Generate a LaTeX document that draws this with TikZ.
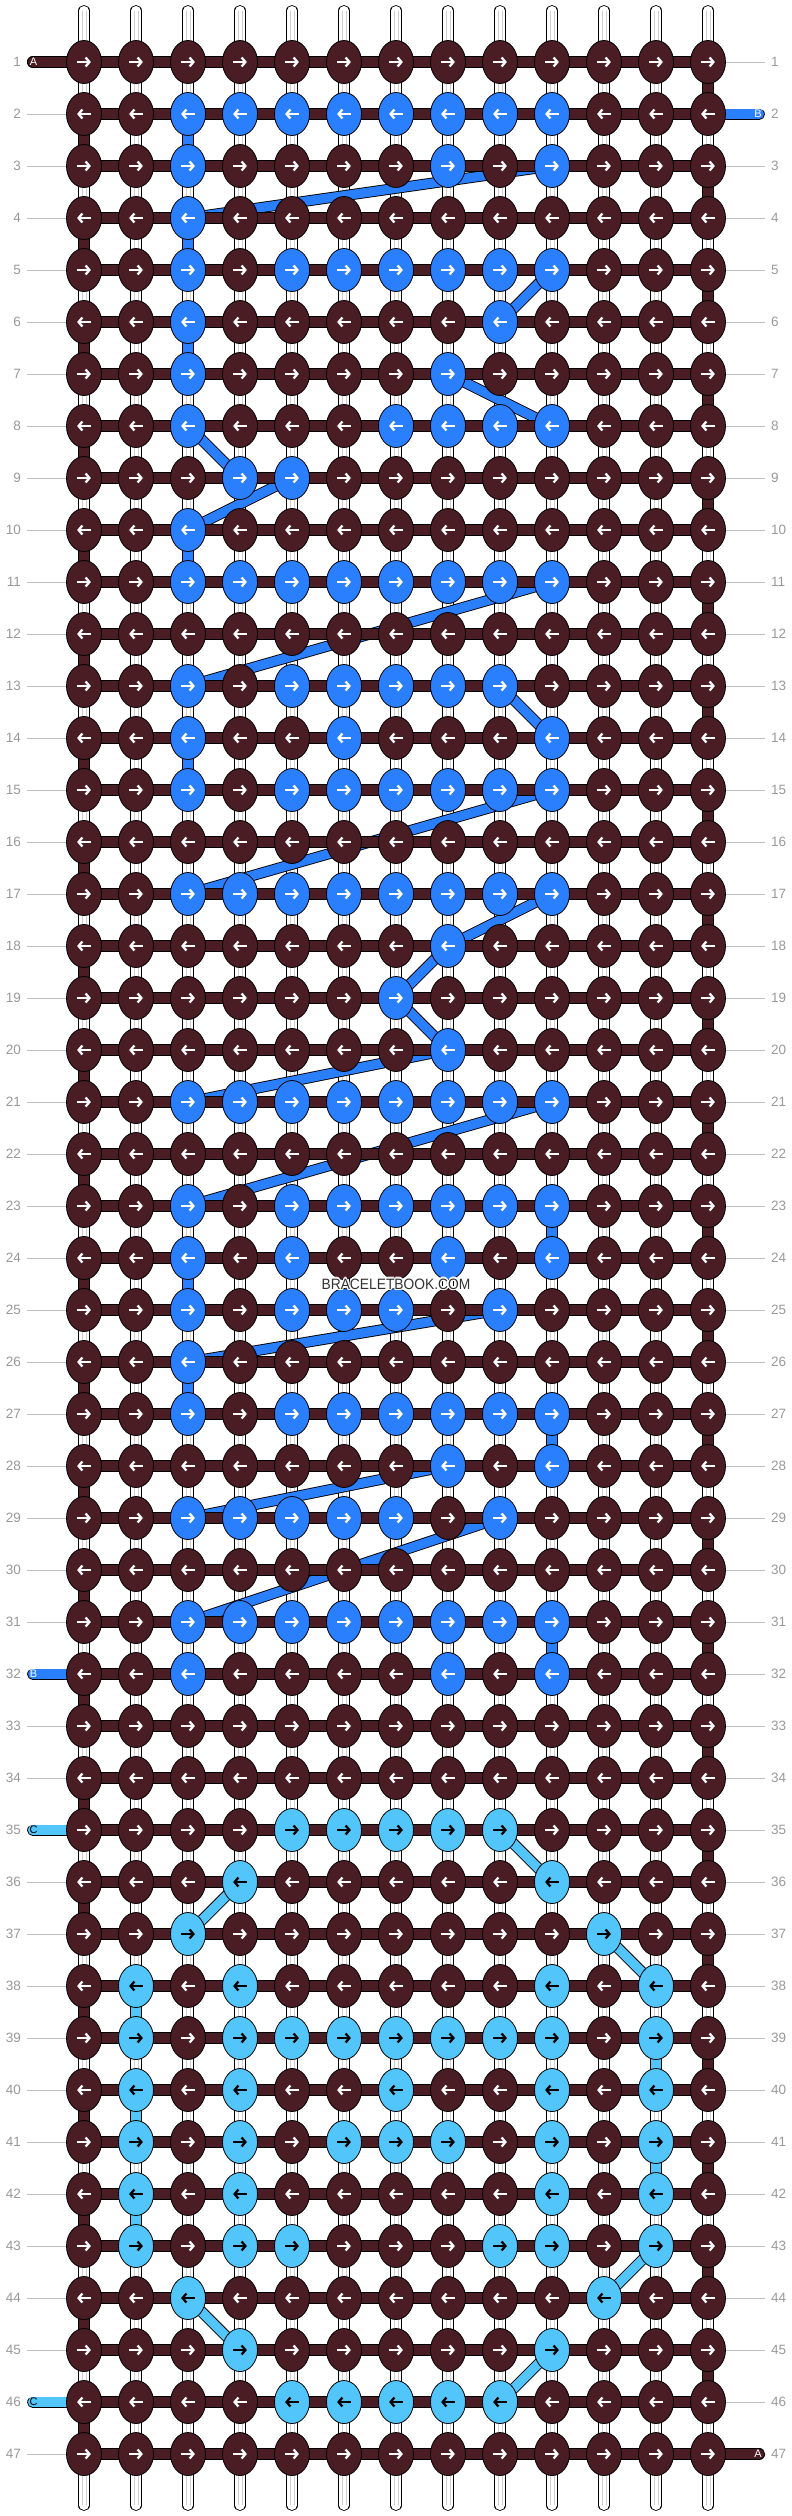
\documentclass[tikz,border=0pt]{standalone}
\usepackage{fontspec}
\setmainfont{Liberation Sans}
\usetikzlibrary{shapes.geometric,arrows.meta}
\definecolor{dk}{HTML}{4A1C24}
\definecolor{bl}{HTML}{2A7FFF}
\definecolor{lb}{HTML}{52C5FA}
\definecolor{labc}{HTML}{999999}
\definecolor{linc}{HTML}{C0C0C0}
\definecolor{wmc}{HTML}{333333}
\definecolor{warpg}{HTML}{CFCFCF}
\pgfdeclarelayer{bgl}\pgfdeclarelayer{wl}\pgfdeclarelayer{cl}\pgfdeclarelayer{hl}
\pgfsetlayers{bgl,wl,cl,hl,main}
\tikzset{
 knot/.style={ellipse, draw=black, line width=0.8pt, minimum width=35pt, minimum height=43pt, inner sep=0pt},
 arw/.style={line width=2.3pt, -{Straight Barb[length=3.8pt,width=9pt]}},
 bandA/.style={draw=black, line width=0.9pt, double=dk, double distance=9.6pt},
 bandB/.style={draw=black, line width=0.9pt, double=bl, double distance=9.2pt},
 bandC/.style={draw=black, line width=0.9pt, double=lb, double distance=9.2pt},
 warp/.style={draw=black, line width=0.9pt, double=white, double distance=9.4pt, line cap=round},
 warpline/.style={draw=warpg, line width=0.7pt},
 rowlab/.style={text=labc, font=\fontsize{13.5}{13.5}\selectfont, inner sep=0pt},
 tick/.style={draw=linc, line width=1pt},
 endlab/.style={font=\fontsize{11}{11}\selectfont, inner sep=0pt},
 wmark/.style={font=\fontsize{15}{15}\selectfont, inner sep=0pt},
}
% colour tables
\foreach \r/\cs in {2/{3,4,5,6,7,8,9,10},3/{3,8,10},4/{3},5/{3,5,6,7,8,9,10},6/{3,9},7/{3,8},
 8/{3,7,8,9,10},9/{4,5},10/{3},11/{3,4,5,6,7,8,9,10},13/{3,5,6,7,8,9},14/{3,6,10},
 15/{3,5,6,7,8,9,10},17/{3,4,5,6,7,8,9,10},18/{8},19/{7},20/{8},21/{3,4,5,6,7,8,9,10},
 23/{3,5,6,7,8,9,10},24/{3,5,8,10},25/{3,5,6,7,9},26/{3},27/{3,5,6,7,8,9,10},28/{8,10},
 29/{3,4,5,6,7,9},31/{3,4,5,6,7,8,9,10},32/{3,8,10}}{
 \foreach \c in \cs {\expandafter\xdef\csname kc-\r-\c\endcsname{bl}}}
\foreach \r/\cs in {35/{5,6,7,8,9},36/{4,10},37/{3,11},38/{2,4,10,12},39/{2,4,5,6,7,8,9,10,12},
 40/{2,4,7,10,12},41/{2,4,6,7,8,10,12},42/{2,4,10,12},43/{2,4,5,9,10,12},44/{3,11},
 45/{4,10},46/{5,6,7,8,9}}{
 \foreach \c in \cs {\expandafter\xdef\csname kc-\r-\c\endcsname{lb}%
   \expandafter\xdef\csname ka-\r-\c\endcsname{black}}}
\begin{document}
\begin{tikzpicture}[x=1pt,y=-1pt]
\useasboundingbox (0,0) rectangle (792,2516);
% knots
\foreach \r in {1,...,47}{
 \foreach \c in {1,...,13}{
  \ifcsname kc-\r-\c\endcsname\edef\kf{\csname kc-\r-\c\endcsname}\else\def\kf{dk}\fi
  \ifcsname ka-\r-\c\endcsname\edef\ka{\csname ka-\r-\c\endcsname}\else\def\ka{white}\fi
  \node[knot, fill=\kf] (k-\r-\c) at ({32+52*\c},{10+52*\r}) {};
  \ifodd\r\relax
   \draw[arw, draw=\ka] ([xshift=-6.6pt]k-\r-\c.center) -- ([xshift=6.9pt]k-\r-\c.center);
  \else
   \draw[arw, draw=\ka] ([xshift=6.6pt]k-\r-\c.center) -- ([xshift=-6.9pt]k-\r-\c.center);
  \fi
 }}
% row labels and ticks
\begin{pgfonlayer}{bgl}
\fill[white] (0,0) rectangle (792,2516);
\foreach \r in {1,...,47}{
 \node[rowlab, anchor=east] (ll-\r) at (21,{10+52*\r}) {\r};
 \node[rowlab, anchor=west] (rl-\r) at (771,{10+52*\r}) {\r};
 \coordinate (tl-\r) at (27,{10+52*\r});
 \coordinate (tr-\r) at (765,{10+52*\r});
 \draw[tick] (tl-\r) -- (k-\r-1.west);
 \draw[tick] (k-\r-13.east) -- (tr-\r);
}
\end{pgfonlayer}
% warp strings
\begin{pgfonlayer}{wl}
\foreach \c in {1,...,13}{
 \coordinate (wt-\c) at ({32+52*\c},10.7);
 \coordinate (wb-\c) at ({32+52*\c},2505.3);
 \draw[warp] (wt-\c) -- (wb-\c);
 \draw[warpline] ([xshift=-2.1pt]wt-\c) -- ([xshift=-2.1pt]wb-\c);
 \draw[warpline] ([xshift=2.1pt]wt-\c) -- ([xshift=2.1pt]wb-\c);
}
\end{pgfonlayer}
% coloured thread paths between rows
\begin{pgfonlayer}{cl}
\foreach \ca/\ra/\cb/\rb in {3/2/3/3,10/3/3/4,3/4/3/5,10/5/9/6,3/6/3/7,8/7/10/8,3/8/4/9,5/9/3/10,
 3/10/3/11,10/11/3/13,9/13/10/14,3/14/3/15,10/15/3/17,10/17/8/18,8/18/7/19,7/19/8/20,8/20/3/21,
 10/21/3/23,10/23/10/24,3/24/3/25,9/25/3/26,3/26/3/27,10/27/10/28,8/28/3/29,9/29/3/31,10/31/10/32}{
 \draw[bandB] (k-\ra-\ca.center) -- (k-\rb-\cb.center);}
\foreach \ca/\ra/\cb/\rb in {9/35/10/36,4/36/3/37,11/37/12/38,2/38/2/39,12/39/12/40,2/40/2/41,
 12/41/12/42,2/42/2/43,12/43/11/44,3/44/4/45,10/45/9/46}{
 \draw[bandC] (k-\ra-\ca.center) -- (k-\rb-\cb.center);}
\coordinate (bS) at (759.4,114);
\coordinate (bE) at (32.6,1674);
\coordinate (cS) at (32.6,1830);
\coordinate (cE) at (32.6,2402);
\draw[bandB, line cap=round] (k-2-13.center) -- (bS);
\draw[bandB, line cap=round] (k-32-1.center) -- (bE);
\draw[bandC, line cap=round] (k-35-1.center) -- (cS);
\draw[bandC, line cap=round] (k-46-1.center) -- (cE);
\end{pgfonlayer}
% background thread
\begin{pgfonlayer}{hl}
\coordinate (aS) at (32.6,62);
\coordinate (aE) at (759.4,2454);
\draw[bandA, line cap=round] (aS) -- (k-1-13.center);
\foreach \r in {2,...,46}{\draw[bandA] (k-\r-1.center) -- (k-\r-13.center);}
\draw[bandA, line cap=round] (k-47-1.center) -- (aE);
\foreach \r [evaluate=\r as \rn using int(\r+1)] in {1,3,...,45}{
 \draw[bandA] (k-\r-13.center) -- (k-\rn-13.center);}
\foreach \r [evaluate=\r as \rn using int(\r+1)] in {2,4,...,46}{
 \draw[bandA] (k-\r-1.center) -- (k-\rn-1.center);}
\end{pgfonlayer}
% string end labels
\node[endlab, text=white] (lA1) at (33.5,62) {A};
\node[endlab, text=white] (lA2) at (758,2454) {A};
\node[endlab, text=white] (lB1) at (758,114) {B};
\node[endlab, text=white] (lB2) at (33.5,1674) {B};
\node[endlab, text=black] (lC1) at (33.5,1830) {C};
\node[endlab, text=black] (lC2) at (33.5,2402) {C};
% watermark with a light halo
\foreach \dx/\dy in {-1.2/0,1.2/0,0/-1.2,0/1.2,-0.9/-0.9,0.9/0.9,-0.9/0.9,0.9/-0.9}{
 \node[wmark, text=white] at (396+\dx,1284+\dy) {\scalebox{0.92}[1]{BRACELETBOOK.COM}};}
\node[wmark, text=wmc] (wm) at (396,1284) {\scalebox{0.92}[1]{BRACELETBOOK.COM}};
\end{tikzpicture}
\end{document}
